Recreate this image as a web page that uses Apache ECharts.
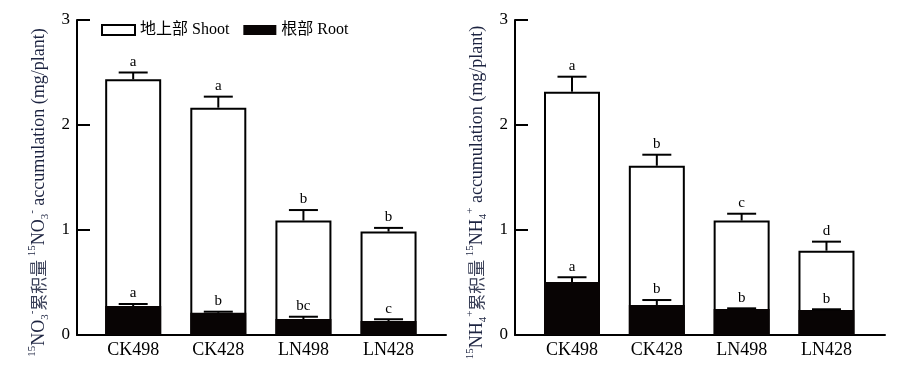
<!DOCTYPE html>
<html><head><meta charset="utf-8">
<script src="https://cdn.jsdelivr.net/npm/echarts@6/dist/echarts.min.js"></script>
<style>html,body{margin:0;padding:0;background:#fff}#c{width:916px;height:381px}</style>
</head><body><div id="c"></div>
<script>
var categories = ['CK498', 'CK428', 'LN498', 'LN428'];
var yTicks = [0, 1, 2, 3];
// Left: 15NO3- accumulation
var no3Shoot = [2.435, 2.165, 1.09, 0.985];
var no3ShootErr = [2.50, 2.27, 1.19, 1.02];
var no3ShootSig = ['a', 'a', 'b', 'b'];
var no3Root = [0.276, 0.212, 0.152, 0.133];
var no3RootErr = [0.295, 0.222, 0.174, 0.15];
var no3RootSig = ['a', 'b', 'bc', 'c'];
// Right: 15NH4+ accumulation
var nh4Shoot = [2.317, 1.612, 1.09, 0.803];
var nh4ShootErr = [2.46, 1.717, 1.155, 0.889];
var nh4ShootSig = ['a', 'b', 'c', 'd'];
var nh4Root = [0.505, 0.286, 0.248, 0.238];
var nh4RootErr = [0.55, 0.333, 0.254, 0.245];
var nh4RootSig = ['a', 'b', 'b', 'b'];

var SERIF = "'Liberation Serif','Noto Sans CJK SC',serif";
var CJK = "'Noto Sans CJK SC','Liberation Serif',serif";
var TXT = '#1c2340';

function pts(vals) { return vals.map(function (v, i) { return [i, v]; }); }
function errData(tops, caps, sig) { return tops.map(function (v, i) { return [i, v, caps[i], sig[i]]; }); }

function errSeries(idx, data) {
  return {
    type: 'custom', xAxisIndex: idx, yAxisIndex: idx, z: 5, silent: true,
    data: data,
    renderItem: function (params, api) {
      var x = api.value(0);
      var p0 = api.coord([x, api.value(1)]);
      var p1 = api.coord([x, api.value(2)]);
      var half = 14.5;
      return {
        type: 'group', children: [
          { type: 'line', shape: { x1: p0[0], y1: p0[1], x2: p1[0], y2: p1[1] }, style: { stroke: '#000', lineWidth: 2 } },
          { type: 'line', shape: { x1: p1[0] - half, y1: p1[1], x2: p1[0] + half, y2: p1[1] }, style: { stroke: '#000', lineWidth: 2 } },
          { type: 'text', x: p1[0], y: p1[1] - 3, style: { text: api.value(3), fill: '#000', font: '15px ' + SERIF, align: 'center', verticalAlign: 'bottom' } }
        ]
      };
    }
  };
}

var richName = {
  t: { fontSize: 18, fontFamily: SERIF, color: TXT, lineHeight: 24 },
  cn: { fontSize: 17, fontFamily: CJK, color: '#3a4058', lineHeight: 24 },
  sup: { fontSize: 11, fontFamily: SERIF, color: TXT, lineHeight: 24, verticalAlign: 'top', padding: [0, 0, 8, 0] },
  sub: { fontSize: 11, fontFamily: SERIF, color: TXT, lineHeight: 24, verticalAlign: 'bottom', padding: [6, 0, 0, 0] }
};

function yAxis(idx, name) {
  return {
    type: 'value', gridIndex: idx, min: 0, max: 3, interval: 1,
    name: name, nameLocation: 'middle', nameRotate: 90, nameGap: 26,
    nameTextStyle: { rich: richName, padding: [0, 30, 0, 0] },
    axisLine: { show: true, onZero: false, lineStyle: { color: '#000', width: 2 } },
    axisTick: { show: true, inside: true, length: 13, lineStyle: { color: '#000', width: 2 } },
    axisLabel: { margin: 7, color: '#000', fontSize: 17, fontFamily: SERIF },
    splitLine: { show: false }
  };
}
function xAxis(idx, mn, mx) {
  return {
    type: 'value', gridIndex: idx, min: mn, max: mx,
    axisLine: { show: true, onZero: false, lineStyle: { color: '#000', width: 2 } },
    axisTick: { show: false },
    splitLine: { show: false },
    axisLabel: { margin: 6, color: '#000', fontSize: 18, fontFamily: SERIF,
      customValues: [0, 1, 2, 3],
      formatter: function (v) { return categories[Math.round(v)]; } }
  };
}

var shootStyle = { color: '#fff', borderColor: '#000', borderWidth: 2 };
var rootStyle = { color: '#080404', borderColor: '#080404', borderWidth: 0 };

var chart = echarts.init(document.getElementById('c'));
chart.setOption({
  animation: false,
  backgroundColor: '#fff',
  legend: {
    left: 101, top: 22, padding: 0, itemWidth: 33, itemHeight: 10, itemGap: 14,
    icon: 'rect',
    textStyle: { fontSize: 16, fontFamily: SERIF, color: '#000' },
    data: [
      { name: '地上部 Shoot', itemStyle: { color: '#fff', borderColor: '#000', borderWidth: 2 } },
      { name: '根部 Root', itemStyle: { color: '#080404', borderWidth: 0 } }
    ]
  },
  grid: [
    { left: 77, top: 20, width: 369, height: 315 },
    { left: 515, top: 20, width: 370, height: 315 }
  ],
  xAxis: [xAxis(0, -0.66, 3.675), xAxis(1, -0.672, 3.69)],
  yAxis: [
    yAxis(0, '{sup|15}{t|NO}{sub|3}{sup|-}{cn|累积量} {sup|15}{t|NO}{sub|3}{sup|-}{t| accumulation (mg/plant)}'),
    yAxis(1, '{sup|15}{t|NH}{sub|4}{sup|+}{cn|累积量} {sup|15}{t|NH}{sub|4}{sup|+}{t| accumulation (mg/plant)}')
  ],
  series: [
    { name: '地上部 Shoot', type: 'bar', xAxisIndex: 0, yAxisIndex: 0, barWidth: 56, data: pts(no3Shoot), itemStyle: shootStyle },
    { name: '根部 Root', type: 'bar', xAxisIndex: 0, yAxisIndex: 0, barWidth: 56, barGap: '-100%', data: pts(no3Root), itemStyle: rootStyle },
    { name: '地上部 Shoot', type: 'bar', xAxisIndex: 1, yAxisIndex: 1, barWidth: 56, data: pts(nh4Shoot), itemStyle: shootStyle },
    { name: '根部 Root', type: 'bar', xAxisIndex: 1, yAxisIndex: 1, barWidth: 56, barGap: '-100%', data: pts(nh4Root), itemStyle: rootStyle },
    errSeries(0, errData(no3Shoot, no3ShootErr, no3ShootSig)),
    errSeries(0, errData(no3Root, no3RootErr, no3RootSig)),
    errSeries(1, errData(nh4Shoot, nh4ShootErr, nh4ShootSig)),
    errSeries(1, errData(nh4Root, nh4RootErr, nh4RootSig))
  ]
});
</script></body></html>
